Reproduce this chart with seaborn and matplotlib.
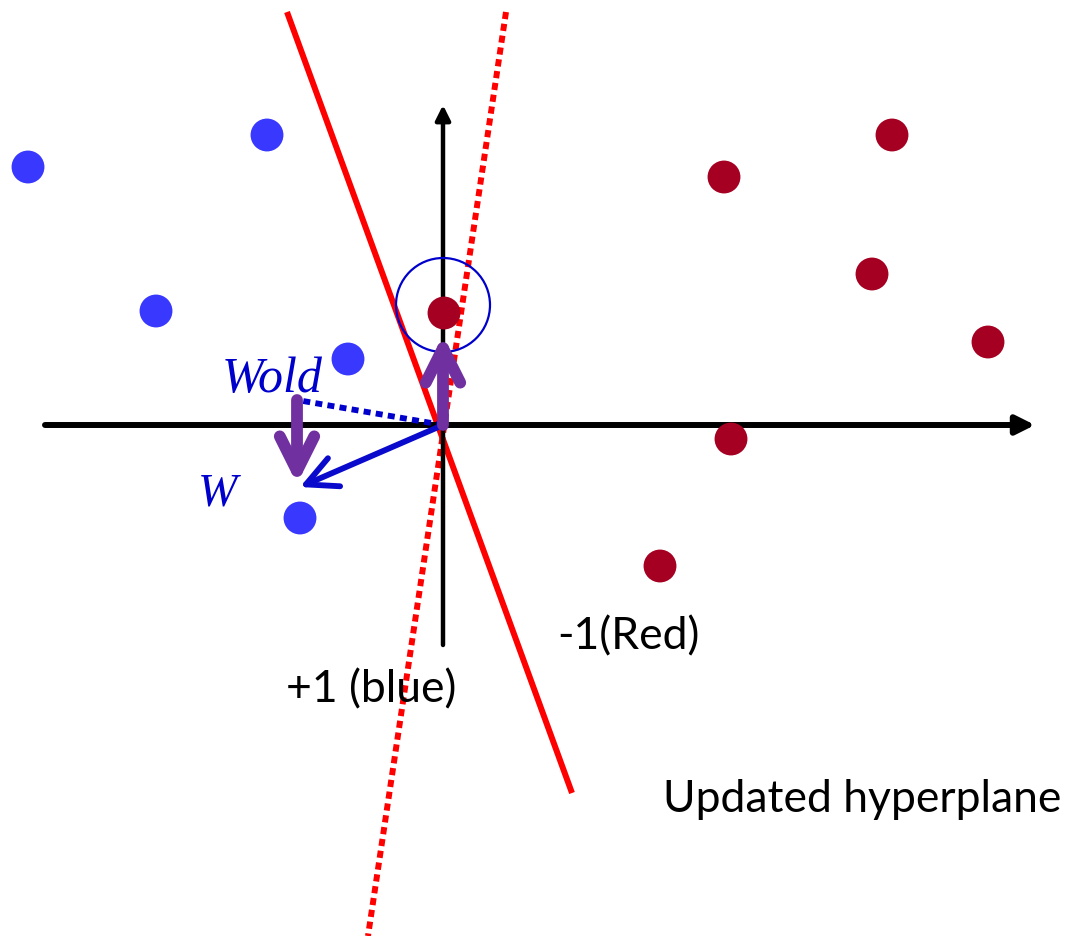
import matplotlib
matplotlib.use("Agg")
import matplotlib.pyplot as plt
import seaborn as sns
import pandas as pd
from matplotlib.patches import Circle

# data points (picture coordinates, y down)
blue_x = [28, 267, 156, 348, 300]
blue_y = [167, 135, 311, 359, 518]
red_x = [724, 892, 872, 988, 731, 660, 444]
red_y = [177, 135, 274, 342, 439, 566, 313]

# lines / vectors
origin = (443, 425)
x_axis = [45, 1035]
y_axis = [645, 105]
hyper_new_x = [287, 572]
hyper_new_y = [12, 793]
hyper_old_x = [506, 368]
hyper_old_y = [12, 936]
w_old_tip = (297, 400)
w_tip = (300, 487)
update_up = (443, 335)
update_down = (297, 484)
circle_center = (443, 305)
circle_r = 47

pts = pd.DataFrame({
    "x": blue_x + red_x,
    "y": blue_y + red_y,
    "cls": ["+1"] * len(blue_x) + ["-1"] * len(red_x),
})

sns.set_style("white")
plt.rcParams["font.family"] = ["Lato", "DejaVu Sans"]
plt.rcParams["text.color"] = "black"

fig = plt.figure(figsize=(10.68, 9.36), dpi=100)
ax = fig.add_axes([0, 0, 1, 1])
ax.set_xlim(0, 1068)
ax.set_ylim(936, 0)
ax.axis("off")

# axes
ax.annotate("", xy=(x_axis[1], origin[1]), xytext=(x_axis[0], origin[1]),
            arrowprops=dict(arrowstyle="-|>", color="black", lw=4.3,
                            mutation_scale=28, shrinkA=0, shrinkB=0))
ax.annotate("", xy=(origin[0], y_axis[1]), xytext=(origin[0], y_axis[0]),
            arrowprops=dict(arrowstyle="-|>", color="black", lw=3.2,
                            mutation_scale=22, shrinkA=0, shrinkB=0))

# hyperplanes
ax.plot(hyper_old_x, hyper_old_y, color="#FF0000", lw=4.3, linestyle=(0, (1.2, 0.8)),
        solid_capstyle="butt")
ax.plot(hyper_new_x, hyper_new_y, color="#FF0000", lw=4.3, solid_capstyle="butt")

# points
sns.scatterplot(data=pts, x="x", y="y", hue="cls",
                palette={"+1": "#3838FF", "-1": "#A50021"},
                s=560, edgecolor="none", legend=False, ax=ax, zorder=5)

# circle around misclassified point
ax.add_patch(Circle(circle_center, circle_r, fill=False, ec="#0000CC", lw=1.6, zorder=6))

# old W (dotted) and new W
ax.plot([origin[0], w_old_tip[0]], [origin[1], w_old_tip[1]], color="#0000CC", lw=4.2,
        linestyle=(0, (1.2, 0.9)), zorder=4)
ax.annotate("", xy=w_tip, xytext=origin,
            arrowprops=dict(arrowstyle="->", color="#0A0ACC", lw=4.2,
                            mutation_scale=55, shrinkA=0, shrinkB=0), zorder=4)

# update arrows (purple)
ax.annotate("", xy=update_up, xytext=origin,
            arrowprops=dict(arrowstyle="->", color="#7030A0", lw=8.5,
                            mutation_scale=62, shrinkA=0, shrinkB=0), zorder=7)
ax.annotate("", xy=update_down, xytext=w_old_tip,
            arrowprops=dict(arrowstyle="->", color="#7030A0", lw=8.5,
                            mutation_scale=62, shrinkA=0, shrinkB=0), zorder=7)

# labels
ax.text(222, 380, "Wold", color="#0000CC", fontsize=36, style="italic",
        family="Liberation Serif", va="center", ha="left")
ax.text(198, 494, "W", color="#0000CC", fontsize=34, style="italic",
        family="Liberation Serif", va="center", ha="left")
ax.text(371, 690, "+1 (blue)", fontsize=32, ha="center", va="center")
ax.text(557, 637, "-1(Red)", fontsize=32, ha="left", va="center")
ax.text(663, 800, "Updated hyperplane", fontsize=32, ha="left", va="center")

fig.savefig("out.png", dpi=100)
